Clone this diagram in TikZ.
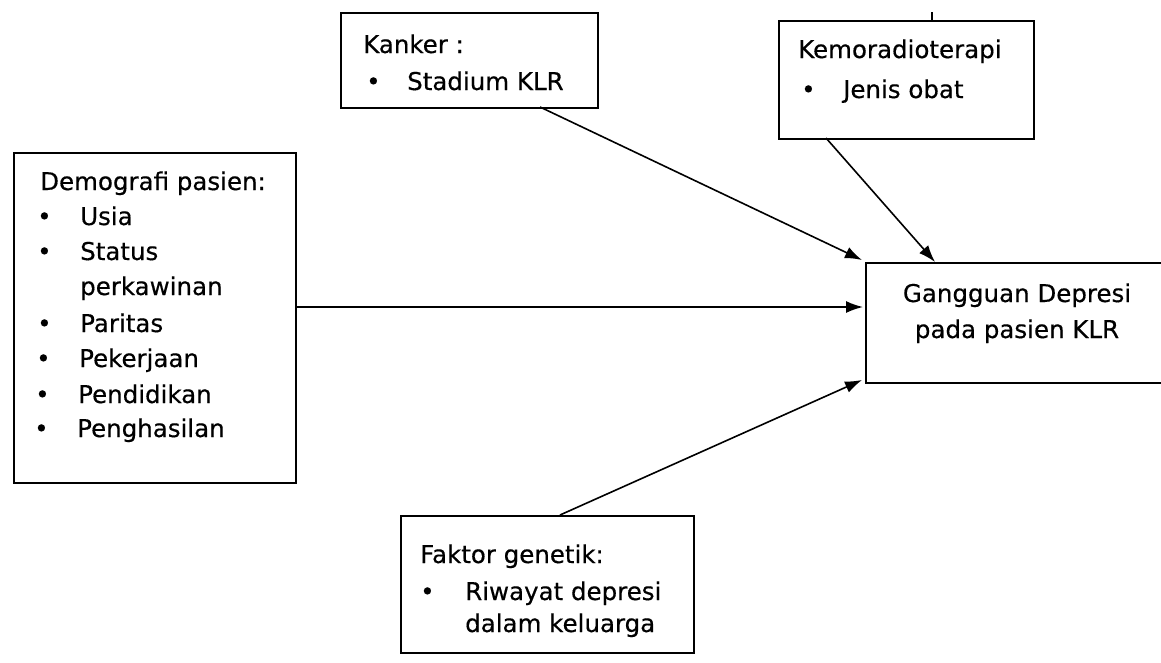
\documentclass[tikz,border=0pt]{standalone}
\usepackage{fontspec}
\setmainfont{DejaVu Sans}[FakeBold=0.4]
\usetikzlibrary{arrows.meta}
\begin{document}
\begin{tikzpicture}[x=1pt,y=-1pt,
  box/.style={draw, line width=2pt, inner sep=0pt, anchor=north west},
  txt/.style={anchor=base west, inner sep=0pt, font=\fontsize{24.5}{30}\selectfont},
  bul/.style={anchor=base west, inner sep=0pt, font=\fontsize{24.5}{30}\selectfont},
  arr/.style={line width=1.6pt, -{Latex[length=17pt,width=12pt]}}]
\useasboundingbox (0,0) rectangle (1161,662);
% boxes
\node[box, minimum width=257pt, minimum height=95pt] (kanker) at (340,12) {};
\node[box, minimum width=255pt, minimum height=118pt] (kemo) at (778,20) {};
\node[box, minimum width=282pt, minimum height=330pt] (demo) at (13,152) {};
\node[box, minimum width=296pt, minimum height=120pt] (gang) at (865,262) {};
\node[box, minimum width=293pt, minimum height=137pt] (gen) at (400,515) {};
% texts
\node[txt] (t1) at (363,53) {Kanker :};
\node[bul] (b1) at (366,90) {•};
\node[txt] (t2) at (407,90) {Stadium KLR};
\node[txt] (t3) at (798,58) {Kemoradioterapi};
\node[bul] (b3) at (801,98) {•};
\node[txt] (t4) at (843,98) {Jenis obat};
\node[txt] (d0) at (40,190) {Demografi pasien:};
\node[bul] (db1) at (37,225) {•};
\node[txt] (d1) at (80,225) {Usia};
\node[bul] (db2) at (37,260) {•};
\node[txt] (d2) at (80,260) {Status};
\node[txt] (d3) at (80,295) {perkawinan};
\node[bul] (db4) at (37,332) {•};
\node[txt] (d4) at (80,332) {Paritas};
\node[bul] (db5) at (36,367) {•};
\node[txt] (d5) at (79,367) {Pekerjaan};
\node[bul] (db6) at (35,403) {•};
\node[txt] (d6) at (78,403) {Pendidikan};
\node[bul] (db7) at (34,437) {•};
\node[txt] (d7) at (77,437) {Penghasilan};
\node[anchor=base, inner sep=0pt, font=\fontsize{24.5}{30}\selectfont] (g1) at (1017,302) {Gangguan Depresi};
\node[anchor=base, inner sep=0pt, font=\fontsize{24.5}{30}\selectfont] (g2) at (1017,338) {pada pasien KLR};
\node[txt] (f1) at (420,563) {Faktor genetik:};
\node[bul] (fb) at (420,600) {•};
\node[txt] (f2) at (465,600) {Riwayat depresi};
\node[txt] (f3) at (465,632) {dalam keluarga};
% connectors
\coordinate (kS) at (540,107);
\coordinate (kmS) at (826,138);
\coordinate (dS) at (295,307);
\coordinate (gS) at (560,515);
\coordinate (gA) at (862,260);
\coordinate (gB) at (935,262);
\coordinate (gC) at (863,307);
\coordinate (gD) at (862,380);
\draw[arr] (kS) -- (gA);
\draw[arr] (kmS) -- (gB);
\draw[arr] (dS) -- (gC);
\draw[arr] (gS) -- (gD);
% small tick above Kemoradioterapi box
\coordinate (tk1) at (932,12);
\coordinate (tk2) at (932,20);
\draw[line width=1.8pt] (tk1) -- (tk2);
\end{tikzpicture}
\end{document}
